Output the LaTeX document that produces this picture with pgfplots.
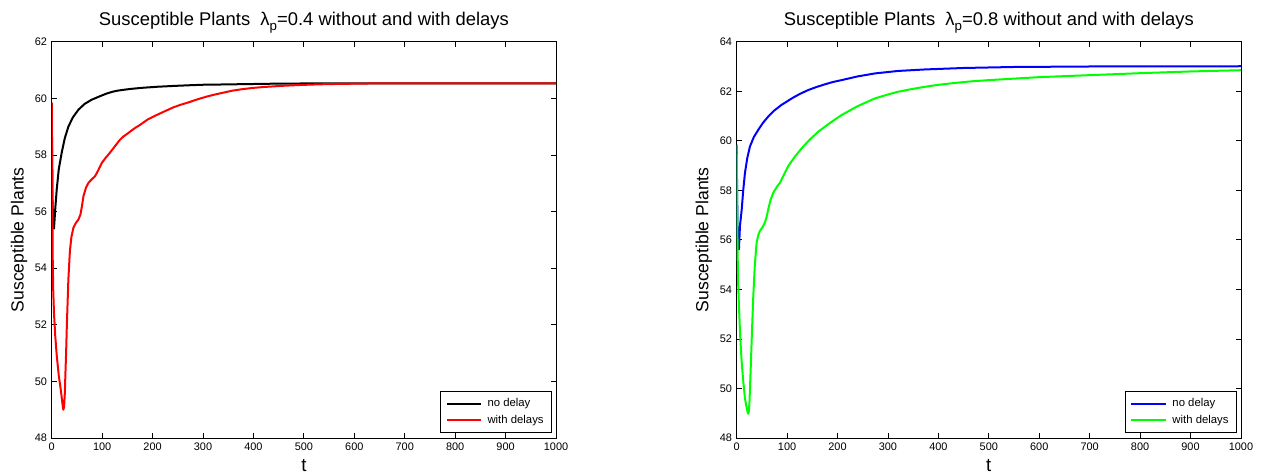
\documentclass[border=0pt]{standalone}
\usepackage{fontspec}
\setmainfont{Liberation Sans}
\usepackage{pgfplots}
\pgfplotsset{compat=1.18}
\begin{document}
\begin{tikzpicture}
\path[use as bounding box] (0,0) rectangle (946.5pt,355.5pt);
\pgfplotsset{
  myaxis/.style={
    scale only axis, width=378.2pt, height=297.2pt, anchor=south west,
    xmin=0, xmax=1000, xtick={0,100,...,1000},
    tick align=inside, major tick length=3.75pt,
    axis line style={line width=0.6pt}, every tick/.style={line width=0.6pt,black},
    /pgf/number format/assume math mode=true,
    /pgf/number format/1000 sep={},
    tick label style={font=\fontsize{8.2}{10}\selectfont},
    title style={at={(0.5,1)}, anchor=base, yshift=6pt, font=\fontsize{13.8}{16}\selectfont},
    ylabel style={at={(axis description cs:-0.065,0.5)}, anchor=center, rotate=0, font=\fontsize{13.2}{16}\selectfont},
    xlabel style={at={(axis description cs:0.5,-0.069)}, anchor=center, font=\fontsize{14}{16}\selectfont},
    xlabel={t}, ylabel={Susceptible Plants},
    legend style={at={(rel axis cs:1,0)}, anchor=south east, xshift=-3pt, yshift=4pt,
      font=\fontsize{8.5}{10}\selectfont, draw=black, line width=0.6pt, inner xsep=4pt, inner ysep=3pt, row sep=1pt},
    legend cell align=left,
    legend image code/.code={\draw[#1] (0pt,0pt) -- (26pt,0pt); \path (28pt,0pt);},
    every axis plot/.append style={line join=round},
  }
}
\begin{axis}[myaxis, at={(38.8pt,27pt)}, ymin=48, ymax=62, ytick={48,50,...,62},
  title={Susceptible Plants\ \ λ\raisebox{-0.5ex}{\fontsize{10}{12}\selectfont p}=0.4 without and with delays}]
\addplot[black, line width=1.5pt] coordinates {(0,59.85)(1.5,56.4)(3,55.5)(4.5,55.4)(7,56.1)(10,56.8)(14,57.5)(20,58.1)(26,58.6)(33,59.0)(42,59.33)(53,59.6)(65,59.8)(79,59.95)(95,60.07)(109,60.17)(120,60.23)(130,60.27)(142,60.3)(155,60.33)(178,60.37)(210,60.41)(244,60.44)(270,60.46)(300,60.48)(340,60.49)(376,60.5)(450,60.52)(550,60.53)(700,60.53)(1000,60.53)};
\addlegendentry{no delay}
\addplot[red, line width=1.5pt] coordinates {(0,59.85)(1,56.8)(2,54.3)(3,53.2)(4.5,52.4)(7,51.6)(10,50.9)(14,50.2)(18,49.7)(20,49.4)(22,49.1)(23,49.0)(24.5,49.1)(26,49.6)(27,50.2)(28.5,51.0)(30,52.0)(33,53.6)(36,54.6)(39,55.1)(43,55.43)(48,55.6)(53,55.72)(57,55.9)(60,56.2)(63,56.55)(68,56.85)(73,57.02)(80,57.15)(86,57.25)(92,57.45)(99,57.71)(107,57.9)(115,58.07)(125,58.3)(135,58.53)(142,58.65)(150,58.75)(158,58.86)(165,58.95)(175,59.06)(190,59.25)(208,59.41)(225,59.55)(241,59.68)(255,59.77)(270,59.85)(290,59.97)(307,60.06)(325,60.14)(340,60.2)(358,60.27)(376,60.32)(400,60.37)(420,60.4)(455,60.44)(490,60.47)(530,60.495)(570,60.51)(650,60.53)(800,60.53)(1000,60.53)};
\addlegendentry{with delays}
\end{axis}
\begin{axis}[myaxis, at={(552.5pt,27pt)}, ymin=48, ymax=64, ytick={48,50,...,64},
  title={Susceptible Plants\ \ λ\raisebox{-0.5ex}{\fontsize{10}{12}\selectfont p}=0.8 without and with delays}]
\addplot[blue, line width=1.5pt] coordinates {(0,59.84)(1.5,56.6)(3,55.7)(4.5,55.62)(6.5,56.56)(10,57.23)(13,58.0)(16.4,58.7)(21,59.3)(26.3,59.77)(34,60.15)(42.8,60.44)(52,60.72)(62.6,60.98)(75,61.23)(89,61.45)(110,61.72)(125,61.89)(142,62.05)(158,62.17)(175,62.28)(190,62.37)(208,62.45)(240,62.6)(274,62.72)(320,62.82)(373,62.88)(450,62.94)(550,62.98)(700,63.0)(1000,63.01)};
\addlegendentry{no delay}
\addplot[green, line width=1.5pt] coordinates {(0,59.84)(1,57.3)(2,55.3)(3,54.2)(4.5,53.35)(7,52.1)(9.9,51.07)(13,50.3)(16.4,49.6)(20,49.2)(22,49.02)(23,48.98)(24.3,49.1)(25.5,49.5)(28.3,51.07)(30.5,52.4)(33,53.75)(36,55.0)(39.6,55.9)(43,56.2)(46,56.36)(51,56.5)(56,56.7)(59,56.9)(62.6,57.23)(67,57.6)(72.5,57.9)(80,58.15)(85.7,58.3)(93,58.6)(102,58.97)(115,59.35)(129,59.7)(145,60.05)(162,60.37)(185,60.72)(208,61.04)(240,61.4)(274,61.71)(300,61.87)(320,61.98)(345,62.08)(373,62.18)(400,62.26)(430,62.33)(465,62.4)(500,62.45)(550,62.51)(600,62.57)(700,62.65)(800,62.73)(900,62.8)(1000,62.85)};
\addlegendentry{with delays}
\end{axis}
\end{tikzpicture}
\end{document}
